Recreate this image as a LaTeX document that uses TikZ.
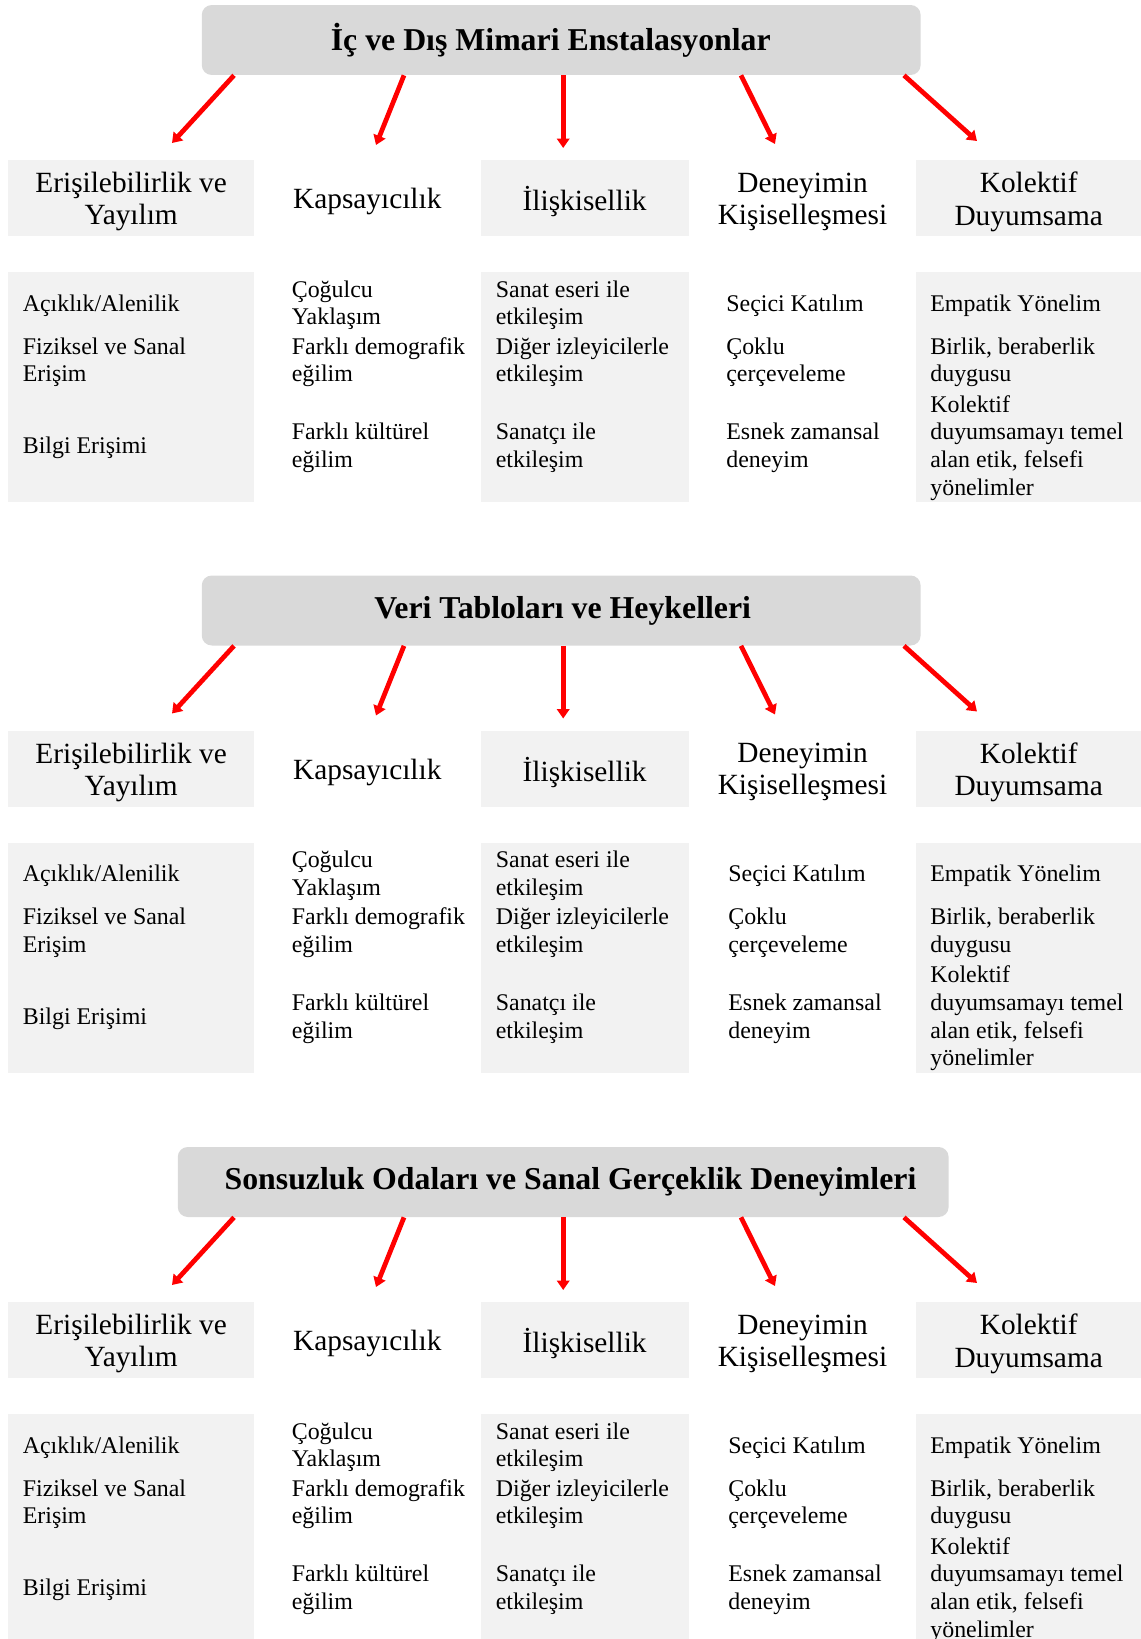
\documentclass[tikz,border=0pt]{standalone}
\usepackage{fontspec}
\setmainfont{Liberation Serif}
\usepackage{tikz}
\usetikzlibrary{arrows.meta, calc}
\usepackage{xcolor}

\definecolor{titlegray}{HTML}{D9D9D9}
\definecolor{cellgray}{HTML}{F2F2F2}
\newcommand{\cellfont}{\fontsize{13.6}{15.8}\selectfont}
\newcommand{\headerfont}{\fontsize{16.7}{18.4}\selectfont}
\newcommand{\titlefnt}{\fontsize{18.1}{21}\selectfont\bfseries}

\begin{document}
\begin{tikzpicture}[
x=0.02cm, y=-0.02cm,
titlebox/.style={fill=titlegray, rounded corners=0.2cm, minimum height=1.4cm},
titletext/.style={font=\titlefnt, inner sep=0pt},
headbox/.style={minimum height=1.52cm, inner sep=0pt},
headtext/.style={align=center, font=\headerfont, inner sep=0pt, yshift=-0.074cm},
cellbox/.style={minimum height=4.6cm, inner sep=0pt},
shaded/.style={fill=cellgray},
celltext/.style={anchor=west, inner sep=0pt, align=left, font=\cellfont},
redarrow/.style={red, line width=0.095cm, -{Triangle[width=0.25cm, length=0.19cm]}}
]

\clip (0,0) rectangle (1141,1639);

\foreach \i/\dy/\ttl/\tw/\tx/\ts/\dx in {1/0/{İç ve Dış Mimari Enstalasyonlar}/14.38/561.2/-10.4/726,
  2/570.5/{Veri Tabloları ve Heykelleri}/14.38/561.2/1.5/728,
  3/1142/{Sonsuzluk Odaları ve Sanal Gerçeklik Deneyimleri}/15.42/563.2/7.3/728}{

\node[titlebox, minimum width=\tw cm, label={[titletext, xshift=\ts*0.02cm]center:\ttl}] (title\i) at (\tx,40+\dy) {};

\node[headbox, shaded, minimum width=4.91cm, label={[headtext]center:{Erişilebilirlik ve\\Yayılım}}] (erisim\i) at (131.15,198+\dy) {};
\node[headbox, minimum width=4.536cm, label={[headtext]center:Kapsayıcılık}] (kapsam\i) at (367.3,198+\dy) {};
\node[headbox, shaded, minimum width=4.158cm, label={[headtext]center:İlişkisellik}] (iliski\i) at (584.65,198+\dy) {};
\node[headbox, minimum width=4.556cm, label={[headtext]center:{Deneyimin\\Kişiselleşmesi}}] (deneyim\i) at (802.5,198+\dy) {};
\node[headbox, shaded, minimum width=4.492cm, label={[headtext]center:{Kolektif\\Duyumsama}}] (kolektif\i) at (1028.7,198+\dy) {};

\node[cellbox, shaded, minimum width=4.91cm] (erisimcell\i) at (131.15,387.4+\dy) {};
\node[cellbox, shaded, minimum width=4.158cm] (iliskicell\i) at (584.65,387.4+\dy) {};
\node[cellbox, shaded, minimum width=4.492cm] (kolektifcell\i) at (1028.7,387.4+\dy) {};

\node[celltext] (acik\i) at (22.5,305.3+\dy) {Açıklık/Alenilik};
\node[celltext] (fiziksel\i) at (22.5,362.2+\dy) {Fiziksel ve Sanal\\Erişim};
\node[celltext] (bilgi\i) at (22.5,447.9+\dy) {Bilgi Erişimi};

\node[celltext] (cogulcu\i) at (291.5,305.3+\dy) {Çoğulcu\\Yaklaşım};
\node[celltext] (demografik\i) at (291.5,362.2+\dy) {Farklı demografik\\eğilim};
\node[celltext] (kulturel\i) at (291.5,447.9+\dy) {Farklı kültürel\\eğilim};

\node[celltext] (eser\i) at (495.5,305.3+\dy) {Sanat eseri ile\\etkileşim};
\node[celltext] (izleyici\i) at (495.5,362.2+\dy) {Diğer izleyicilerle\\etkileşim};
\node[celltext] (sanatci\i) at (495.5,447.9+\dy) {Sanatçı ile\\etkileşim};

\node[celltext] (secici\i) at (\dx,305.3+\dy) {Seçici Katılım};
\node[celltext] (coklu\i) at (\dx,362.2+\dy) {Çoklu\\çerçeveleme};
\node[celltext] (esnek\i) at (\dx,447.9+\dy) {Esnek zamansal\\deneyim};

\node[celltext] (empatik\i) at (930,305.3+\dy) {Empatik Yönelim};
\node[celltext] (birlik\i) at (930,362.2+\dy) {Birlik, beraberlik\\duygusu};
\node[celltext] (etik\i) at (930,447.9+\dy) {Kolektif\\duyumsamayı temel\\alan etik, felsefi\\yönelimler};

\foreach \k/\sx/\ax/\ay in {1/234/172/143, 2/404/376/145, 3/563.2/563.2/148, 4/741/775/144, 5/904/977/141}{
  \coordinate (tip\k\i) at (\ax,\ay+\dy);
  \draw[redarrow] ($(title\i.south)+(\sx-\tx,0)$) -- (tip\k\i);
}
}

\end{tikzpicture}
\end{document}
